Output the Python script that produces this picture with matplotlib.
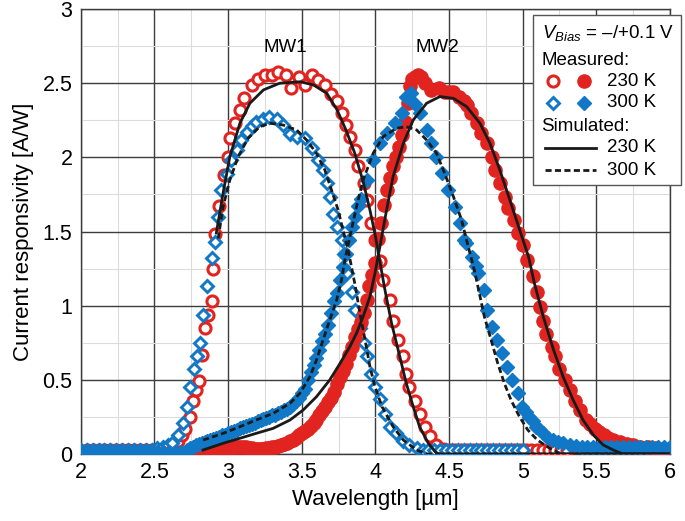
import matplotlib
matplotlib.use("Agg")
import matplotlib.pyplot as plt
from matplotlib.patches import Rectangle
from matplotlib.ticker import MultipleLocator

plt.rcParams['font.family'] = ['Liberation Sans', 'DejaVu Sans']
plt.rcParams['mathtext.fontset'] = 'custom'
plt.rcParams['mathtext.rm'] = 'Liberation Sans'
plt.rcParams['mathtext.it'] = 'Liberation Sans:italic'

RED = '#e1241f'
BLUE = '#1078c6'

# measured, MW1 band, 230 K (open circles)
wl_mw1_230 = [2.00, 2.04, 2.08, 2.12, 2.16, 2.20, 2.24, 2.28, 2.32, 2.36, 2.40, 2.44, 2.48, 2.52, 2.56,
              2.60, 2.63, 2.66, 2.69, 2.71, 2.74, 2.76, 2.78, 2.80, 2.82, 2.84, 2.865, 2.89, 2.90, 2.91,
              2.94, 2.97, 3.00, 3.01, 3.05, 3.08, 3.11, 3.16, 3.20, 3.25, 3.30, 3.34, 3.39, 3.43, 3.48,
              3.52, 3.57, 3.61, 3.66, 3.70, 3.74, 3.77, 3.80, 3.83, 3.86, 3.88, 3.92, 3.94, 3.97, 4.00,
              4.03, 4.05, 4.10, 4.12, 4.155, 4.19, 4.21, 4.23, 4.27, 4.30, 4.34, 4.37, 4.41, 4.46,
              4.50, 4.54, 4.58, 4.62, 4.66, 4.70, 4.74, 4.78, 4.82, 4.86, 4.90, 4.94, 4.98, 5.02, 5.06,
              5.10, 5.14, 5.18, 5.22, 5.26, 5.30]
r_mw1_230 = [0.02, 0.03, 0.03, 0.03, 0.03, 0.03, 0.03, 0.03, 0.03, 0.03, 0.03, 0.03, 0.03, 0.03, 0.03,
             0.04, 0.06, 0.09, 0.13, 0.17, 0.25, 0.36, 0.43, 0.49, 0.67, 0.85, 0.94, 1.03, 1.25, 1.48,
             1.67, 1.88, 2.00, 2.13, 2.23, 2.32, 2.40, 2.49, 2.53, 2.556, 2.556, 2.578, 2.556, 2.47, 2.54,
             2.49, 2.556, 2.52, 2.49, 2.43, 2.38, 2.30, 2.22, 2.14, 2.05, 1.94, 1.83, 1.71, 1.56, 1.44,
             1.30, 1.17, 1.04, 0.90, 0.77, 0.66, 0.54, 0.45, 0.36, 0.27, 0.18, 0.12, 0.06, 0.035,
             0.03, 0.03, 0.03, 0.03, 0.03, 0.03, 0.03, 0.03, 0.03, 0.03, 0.03, 0.03, 0.03, 0.03, 0.03,
             0.03, 0.03, 0.03, 0.03, 0.03, 0.03]

# measured, MW1 band, 300 K (open diamonds)
wl_mw1_300 = [2.00, 2.04, 2.08, 2.12, 2.16, 2.20, 2.24, 2.28, 2.32, 2.36, 2.40, 2.44, 2.48, 2.52, 2.56,
              2.59, 2.62, 2.66, 2.695, 2.72, 2.74, 2.77, 2.79, 2.81, 2.83, 2.86, 2.89, 2.91, 2.93, 2.955,
              2.99, 3.02, 3.06, 3.09, 3.125, 3.16, 3.19, 3.24, 3.28, 3.33, 3.37, 3.42, 3.465, 3.52, 3.57,
              3.61, 3.645, 3.67, 3.69, 3.71, 3.74, 3.77, 3.79, 3.81, 3.84, 3.86, 3.895, 3.92, 3.94, 3.97,
              4.00, 4.03, 4.065, 4.10, 4.14, 4.19, 4.23, 4.28,
              4.32, 4.36, 4.40, 4.44, 4.48, 4.52, 4.56, 4.60, 4.64, 4.68, 4.72, 4.76, 4.80, 4.84, 4.88,
              4.92, 4.96, 5.00]
r_mw1_300 = [0.03, 0.03, 0.03, 0.03, 0.03, 0.03, 0.03, 0.03, 0.03, 0.03, 0.03, 0.03, 0.03, 0.04, 0.05,
             0.06, 0.075, 0.13, 0.21, 0.32, 0.45, 0.57, 0.66, 0.75, 0.94, 1.13, 1.32, 1.43, 1.60, 1.78,
             1.89, 1.98, 2.05, 2.12, 2.17, 2.21, 2.24, 2.26, 2.27, 2.26, 2.22, 2.16, 2.14, 2.13, 2.06,
             1.98, 1.915, 1.825, 1.735, 1.62, 1.53, 1.44, 1.35, 1.22, 1.09, 0.97, 0.85, 0.75, 0.66, 0.54,
             0.45, 0.37, 0.27, 0.18, 0.14, 0.09, 0.06, 0.04,
             0.03, 0.03, 0.03, 0.03, 0.03, 0.03, 0.03, 0.03, 0.03, 0.03, 0.03, 0.03, 0.03, 0.03, 0.03,
             0.03, 0.03, 0.03]

# measured, MW2 band, 230 K (filled circles)
wl_mw2_230 = [2.52, 2.56, 2.60, 2.64, 2.68, 2.72, 2.76, 2.78, 2.80, 2.82, 2.84, 2.86, 2.88, 2.90, 2.92,
              2.94, 2.96, 2.98, 3.00, 3.02, 3.04, 3.06, 3.08, 3.10, 3.12, 3.14, 3.16, 3.18, 3.20, 3.22,
              3.24, 3.26, 3.28, 3.30, 3.32, 3.34, 3.36, 3.38, 3.40, 3.42, 3.44, 3.46, 3.48, 3.50, 3.52,
              3.54, 3.56, 3.58, 3.60, 3.62, 3.64, 3.66, 3.68, 3.70, 3.72, 3.74, 3.76, 3.78, 3.80, 3.82,
              3.84, 3.86, 3.88, 3.90, 3.92, 3.94, 3.96, 3.98, 4.00, 4.02, 4.04, 4.06, 4.08, 4.10, 4.12,
              4.14, 4.16, 4.18, 4.20, 4.22, 4.235, 4.25, 4.27, 4.29, 4.31, 4.34, 4.38, 4.43, 4.47, 4.50,
              4.53, 4.57, 4.60, 4.62, 4.65, 4.69, 4.72, 4.755, 4.79, 4.81, 4.845, 4.88, 4.90, 4.94, 4.97,
              5.00, 5.03, 5.07, 5.095, 5.12, 5.14, 5.16, 5.20, 5.22, 5.25, 5.29, 5.32, 5.355, 5.39, 5.43,
              5.46, 5.49, 5.52, 5.55, 5.58, 5.615, 5.66, 5.71, 5.75, 5.80, 5.85, 5.90, 5.95, 6.00]
r_mw2_230 = [0.01, 0.01, 0.01, 0.01, 0.01, 0.01, 0.015, 0.015, 0.015, 0.02, 0.02, 0.02, 0.025, 0.025, 0.03,
             0.03, 0.035, 0.035, 0.04, 0.04, 0.045, 0.045, 0.045, 0.045, 0.045, 0.04, 0.04, 0.035, 0.035, 0.035,
             0.035, 0.04, 0.04, 0.045, 0.05, 0.055, 0.06, 0.07, 0.075, 0.085, 0.095, 0.11, 0.125, 0.14, 0.155,
             0.17, 0.19, 0.21, 0.23, 0.26, 0.29, 0.32, 0.35, 0.38, 0.42, 0.47, 0.52, 0.56, 0.61, 0.67,
             0.72, 0.79, 0.84, 0.89, 0.95, 1.04, 1.13, 1.21, 1.29, 1.45, 1.56, 1.68, 1.78, 1.86, 1.94,
             2.00, 2.07, 2.15, 2.24, 2.37, 2.48, 2.53, 2.545, 2.556, 2.54, 2.50, 2.455, 2.466, 2.443, 2.44,
             2.443, 2.41, 2.38, 2.353, 2.297, 2.23, 2.162, 2.095, 2.005, 1.915, 1.825, 1.735, 1.657, 1.578, 1.488,
             1.41, 1.31, 1.20, 1.09, 0.99, 0.90, 0.81, 0.72, 0.66, 0.57, 0.50, 0.43, 0.36, 0.30, 0.23,
             0.20, 0.17, 0.15, 0.13, 0.11, 0.094, 0.08, 0.067, 0.058, 0.05, 0.045, 0.04, 0.035, 0.027]

# measured, MW2 band, 300 K (filled diamonds)
wl_mw2_300 = [2.00, 2.04, 2.08, 2.12, 2.16, 2.20, 2.24, 2.28, 2.32, 2.36, 2.40, 2.44, 2.48, 2.52, 2.56,
              2.60, 2.64, 2.68, 2.72, 2.74, 2.76, 2.78, 2.80, 2.82, 2.84, 2.86, 2.88, 2.90, 2.92, 2.94,
              2.96, 2.98, 3.00, 3.02, 3.04, 3.06, 3.08, 3.10, 3.12, 3.14, 3.16, 3.18, 3.20, 3.22, 3.24,
              3.26, 3.28, 3.30, 3.32, 3.34, 3.36, 3.38, 3.40, 3.42, 3.44, 3.46, 3.48, 3.50, 3.52, 3.54,
              3.56, 3.58, 3.60, 3.62, 3.64, 3.66, 3.68, 3.70, 3.72, 3.74, 3.76, 3.78, 3.80, 3.82, 3.84,
              3.86, 3.88, 3.90, 3.94, 3.985, 4.03, 4.076, 4.13, 4.178, 4.21, 4.245, 4.27, 4.30, 4.35, 4.38,
              4.415, 4.45, 4.494, 4.54, 4.574, 4.60, 4.615, 4.655, 4.68, 4.70, 4.735, 4.757, 4.79, 4.825, 4.86,
              4.893, 4.93, 4.965, 4.995, 5.025, 5.045, 5.07, 5.09, 5.115, 5.135, 5.175, 5.205, 5.24, 5.275, 5.32,
              5.36, 5.40, 5.44, 5.48, 5.52, 5.56, 5.60, 5.64, 5.68, 5.72, 5.76, 5.80, 5.84, 5.88, 5.92,
              5.96, 6.00]
r_mw2_300 = [0.015, 0.015, 0.015, 0.015, 0.015, 0.015, 0.015, 0.015, 0.015, 0.015, 0.015, 0.015, 0.015, 0.015, 0.015,
             0.015, 0.015, 0.015, 0.03, 0.04, 0.05, 0.06, 0.065, 0.075, 0.08, 0.087, 0.094, 0.10, 0.11, 0.115,
             0.125, 0.13, 0.14, 0.145, 0.155, 0.165, 0.172, 0.18, 0.19, 0.195, 0.205, 0.212, 0.22, 0.23, 0.235,
             0.245, 0.25, 0.26, 0.265, 0.275, 0.285, 0.295, 0.305, 0.32, 0.335, 0.355, 0.38, 0.41, 0.44, 0.50,
             0.55, 0.60, 0.65, 0.70, 0.76, 0.81, 0.87, 0.95, 1.03, 1.084, 1.173, 1.26, 1.35, 1.44, 1.53,
             1.60, 1.67, 1.72, 1.848, 1.98, 2.095, 2.162, 2.23, 2.297, 2.41, 2.432, 2.36, 2.297, 2.185, 2.095,
             2.005, 1.893, 1.78, 1.668, 1.556, 1.443, 1.42, 1.33, 1.27, 1.218, 1.106, 0.971, 0.858, 0.769, 0.679,
             0.589, 0.499, 0.409, 0.319, 0.28, 0.252, 0.22, 0.184, 0.16, 0.139, 0.11, 0.094, 0.083, 0.072, 0.06,
             0.055, 0.05, 0.05, 0.05, 0.05, 0.05, 0.05, 0.05, 0.05, 0.05, 0.05, 0.05, 0.05, 0.05, 0.05,
             0.05, 0.05]

# simulated curves
wl_sim_mw1_230 = [2.92, 2.966, 3.012, 3.08, 3.148, 3.24, 3.35, 3.49, 3.58, 3.67, 3.74, 3.80, 3.86, 3.92,
                  3.963, 4.00, 4.03, 4.065, 4.11, 4.166, 4.21, 4.257, 4.30, 4.36, 4.415, 4.45, 6.00]
r_sim_mw1_230 = [1.49, 1.76, 2.005, 2.23, 2.365, 2.455, 2.50, 2.51, 2.488, 2.432, 2.32, 2.185, 2.028, 1.825,
                 1.645, 1.47, 1.30, 1.106, 0.881, 0.656, 0.476, 0.319, 0.184, 0.072, 0.005, 0.0, 0.0]
wl_sim_mw1_300 = [2.933, 2.966, 3.012, 3.068, 3.136, 3.215, 3.284, 3.374, 3.465, 3.533, 3.60, 3.657, 3.702,
                  3.747, 3.78, 3.815, 3.86, 3.895, 3.93, 3.963, 3.997, 4.045, 4.12, 4.19, 4.28, 4.35, 6.00]
r_sim_mw1_300 = [1.454, 1.668, 1.848, 2.005, 2.129, 2.207, 2.23, 2.218, 2.185, 2.117, 2.028, 1.915, 1.78,
                 1.645, 1.51, 1.376, 1.15, 0.949, 0.769, 0.589, 0.454, 0.319, 0.184, 0.094, 0.027, 0.0, 0.0]
wl_sim_mw2_230 = [2.83, 2.966, 3.08, 3.19, 3.306, 3.42, 3.51, 3.60, 3.69, 3.76, 3.827, 3.872, 3.917, 3.963,
                  3.997, 4.02, 4.076, 4.12, 4.19, 4.257, 4.348, 4.438, 4.53, 4.62, 4.71, 4.778, 4.845, 4.913,
                  4.98, 5.04, 5.08, 5.14, 5.21, 5.275, 5.343, 5.41, 5.48, 5.547, 5.615, 5.68, 6.00]
r_sim_mw2_230 = [0.027, 0.072, 0.106, 0.139, 0.173, 0.229, 0.297, 0.386, 0.499, 0.611, 0.724, 0.814, 0.926, 1.061,
                 1.218, 1.34, 1.645, 1.87, 2.095, 2.252, 2.365, 2.41, 2.398, 2.342, 2.23, 2.095, 1.915, 1.713,
                 1.51, 1.33, 1.15, 0.926, 0.701, 0.52, 0.364, 0.229, 0.128, 0.061, 0.027, 0.0, 0.0]
wl_sim_mw2_300 = [2.83, 2.966, 3.08, 3.19, 3.306, 3.42, 3.487, 3.555, 3.60, 3.645, 3.69, 3.737, 3.77, 3.793,
                  3.827, 3.872, 3.917, 3.985, 4.053, 4.144, 4.21, 4.28, 4.348, 4.415, 4.47, 4.53, 4.585, 4.625,
                  4.672, 4.706, 4.74, 4.786, 4.831, 4.876, 4.921, 4.978, 5.035, 5.10, 5.185, 5.253, 5.30, 6.00]
r_sim_mw2_300 = [0.094, 0.139, 0.184, 0.229, 0.274, 0.342, 0.409, 0.52, 0.634, 0.769, 0.904, 1.038, 1.173, 1.308,
                 1.465, 1.668, 1.848, 2.028, 2.14, 2.196, 2.207, 2.185, 2.117, 2.028, 1.893, 1.735, 1.578, 1.42,
                 1.24, 1.084, 0.926, 0.769, 0.611, 0.476, 0.364, 0.252, 0.162, 0.094, 0.038, 0.005, 0.0, 0.0]

fig = plt.figure(figsize=(6.85, 5.21), dpi=100)
ax = fig.add_axes([0.118, 0.1286, 0.860, 0.854])

DASH = (2.2, 1.2)

# measured data
ax.plot(wl_mw1_230, r_mw1_230, 'o', ms=8, mfc='white', mec=RED, mew=2.2, ls='none', zorder=3)
ax.plot(wl_mw1_300, r_mw1_300, 'D', ms=6, mfc='white', mec=BLUE, mew=2.1, ls='none', zorder=3)
ax.plot(wl_mw2_230, r_mw2_230, 'o', ms=9.5, color=RED, mec=RED, ls='none', zorder=3)
ax.plot(wl_mw2_300, r_mw2_300, 'D', ms=7, color=BLUE, mec=BLUE, ls='none', zorder=3)

# simulated curves
ax.plot(wl_sim_mw1_230, r_sim_mw1_230, '-', color='#1a1a1a', lw=2, zorder=4)
ax.plot(wl_sim_mw2_230, r_sim_mw2_230, '-', color='#1a1a1a', lw=2, zorder=4)
ax.plot(wl_sim_mw1_300, r_sim_mw1_300, '--', color='#1a1a1a', lw=2, dashes=DASH, zorder=4)
ax.plot(wl_sim_mw2_300, r_sim_mw2_300, '--', color='#1a1a1a', lw=2, dashes=DASH, zorder=4)

ax.set_xlim(2, 6)
ax.set_ylim(0, 3)
ax.xaxis.set_major_locator(MultipleLocator(0.5))
ax.yaxis.set_major_locator(MultipleLocator(0.5))
ax.xaxis.set_minor_locator(MultipleLocator(0.25))
ax.yaxis.set_minor_locator(MultipleLocator(0.25))
ax.grid(which='major', color='#3c3c3c', lw=1.0)
ax.grid(which='minor', color='#dcdcdc', lw=0.8)
ax.set_axisbelow(True)
for s in ax.spines.values():
    s.set_color('#3c3c3c')
    s.set_linewidth(1.0)
ax.tick_params(which='both', length=0, labelsize=15.5, pad=6)
ax.set_xticks([2, 2.5, 3, 3.5, 4, 4.5, 5, 5.5, 6])
ax.set_xticklabels(['2', '2.5', '3', '3.5', '4', '4.5', '5', '5.5', '6'])
ax.set_yticks([0, 0.5, 1, 1.5, 2, 2.5, 3])
ax.set_yticklabels(['0', '0.5', '1', '1.5', '2', '2.5', '3'])
ax.set_xlabel('Wavelength [µm]', fontsize=16, labelpad=4)
ax.set_ylabel('Current responsivity [A/W]', fontsize=16, labelpad=6)

ax.text(3.39, 2.74, 'MW1', fontsize=13.5, ha='center', va='center')
ax.text(4.42, 2.74, 'MW2', fontsize=13.5, ha='center', va='center')

# legend box drawn by hand
T = ax.transAxes
ax.add_patch(Rectangle((0.767, 0.6045), 0.252, 0.382, transform=T, facecolor='white',
                       edgecolor='#555555', lw=1.0, clip_on=False, zorder=6))
fs = 13.5
ax.text(0.782, 0.946, r'$V_{Bias}$ = –/+0.1 V', transform=T, fontsize=fs, va='center', zorder=7)
ax.text(0.782, 0.885, 'Measured:', transform=T, fontsize=fs, va='center', zorder=7)
ax.text(0.893, 0.838, '230 K', transform=T, fontsize=fs, va='center', zorder=7)
ax.text(0.893, 0.789, '300 K', transform=T, fontsize=fs, va='center', zorder=7)
ax.text(0.782, 0.737, 'Simulated:', transform=T, fontsize=fs, va='center', zorder=7)
ax.text(0.893, 0.688, '230 K', transform=T, fontsize=fs, va='center', zorder=7)
ax.text(0.893, 0.638, '300 K', transform=T, fontsize=fs, va='center', zorder=7)
ax.plot([0.801], [0.838], 'o', ms=8, mfc='white', mec=RED, mew=2.2, transform=T, clip_on=False, zorder=7)
ax.plot([0.854], [0.838], 'o', ms=9.5, color=RED, transform=T, clip_on=False, zorder=7)
ax.plot([0.801], [0.789], 'D', ms=6, mfc='white', mec=BLUE, mew=2.1, transform=T, clip_on=False, zorder=7)
ax.plot([0.854], [0.789], 'D', ms=7, color=BLUE, transform=T, clip_on=False, zorder=7)
ax.plot([0.788, 0.874], [0.688, 0.688], '-', color='#1a1a1a', lw=2, transform=T, clip_on=False, zorder=7)
ax.plot([0.788, 0.874], [0.638, 0.638], '--', color='#1a1a1a', lw=2, dashes=DASH,
        transform=T, clip_on=False, zorder=7)

fig.savefig('out.png', dpi=100)
